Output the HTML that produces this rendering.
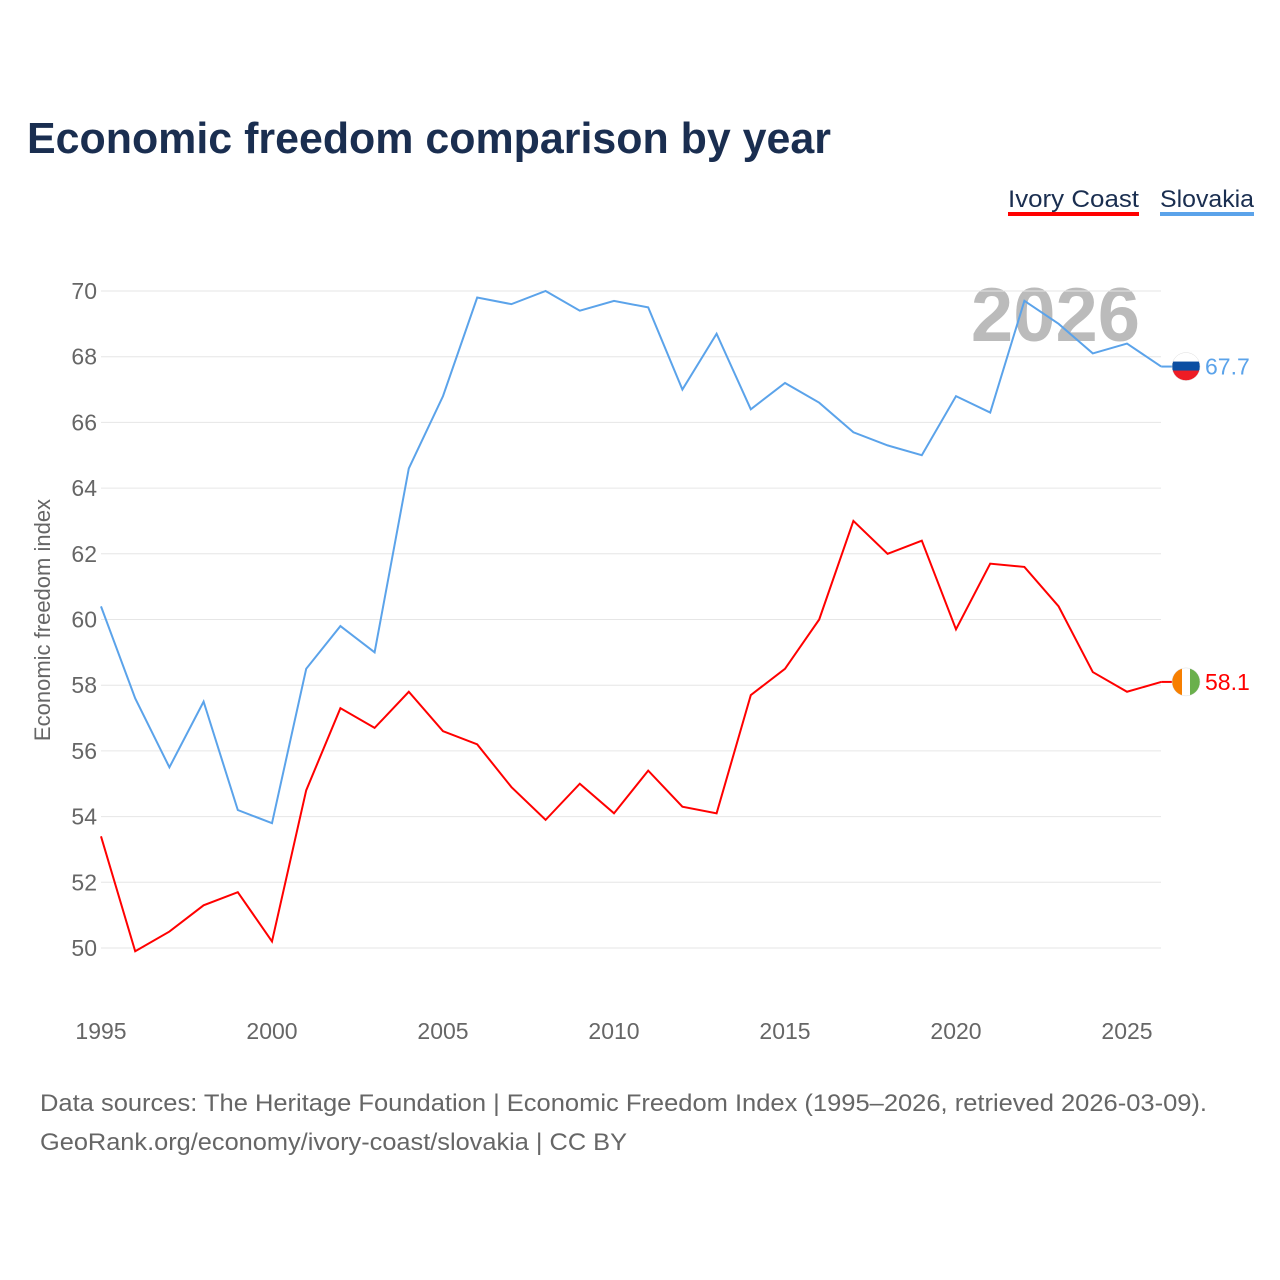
<!DOCTYPE html>
<html><head><meta charset="utf-8">
<style>
body{margin:0;background:#fff;font-family:"Liberation Sans",sans-serif;}
#wrap{position:relative;width:1280px;height:1280px;overflow:hidden;}
</style></head>
<body><div id="wrap">
<svg id="chart" width="1280" height="1280" xmlns="http://www.w3.org/2000/svg">
<text x="27" y="153" font-size="44" font-weight="bold" fill="#1a2e50" textLength="804" lengthAdjust="spacingAndGlyphs">Economic freedom comparison by year</text>
<g><text x="1008" y="207" font-size="24" fill="#1a2e50" textLength="131" lengthAdjust="spacingAndGlyphs">Ivory Coast</text><rect x="1008" y="212" width="131" height="4" fill="#ff0000"/></g>
<g><text x="1160" y="207" font-size="24" fill="#1a2e50" textLength="94" lengthAdjust="spacingAndGlyphs">Slovakia</text><rect x="1160" y="212" width="94" height="4" fill="#5ba3ea"/></g>
<text x="1140" y="341" text-anchor="end" font-size="76" font-weight="bold" fill="#bbb">2026</text>
<text transform="translate(50,620) rotate(-90)" text-anchor="middle" font-size="22" fill="#666">Economic freedom index</text>
<g id="grid"></g><g id="xt"></g><g id="lines"></g>
<text x="40" y="1111" font-size="24" fill="#666" textLength="1167" lengthAdjust="spacingAndGlyphs">Data sources: The Heritage Foundation | Economic Freedom Index (1995–2026, retrieved 2026-03-09).</text>
<text x="40" y="1150" font-size="24" fill="#666" textLength="587" lengthAdjust="spacingAndGlyphs">GeoRank.org/economy/ivory-coast/slovakia | CC BY</text>
</svg></div>
<script>
const years=[1995,1996,1997,1998,1999,2000,2001,2002,2003,2004,2005,2006,2007,2008,2009,2010,2011,2012,2013,2014,2015,2016,2017,2018,2019,2020,2021,2022,2023,2024,2025,2026];
const slovakia=[60.4,57.6,55.5,57.5,54.2,53.8,58.5,59.8,59.0,64.6,66.8,69.8,69.6,70.0,69.4,69.7,69.5,67.0,68.7,66.4,67.2,66.6,65.7,65.3,65.0,66.8,66.3,69.7,69.0,68.1,68.4,67.7];
const ivoryCoast=[53.4,49.9,50.5,51.3,51.7,50.2,54.8,57.3,56.7,57.8,56.6,56.2,54.9,53.9,55.0,54.1,55.4,54.3,54.1,57.7,58.5,60.0,63.0,62.0,62.4,59.7,61.7,61.6,60.4,58.4,57.8,58.1];
const yTicks=[50,52,54,56,58,60,62,64,66,68,70];
const xTicks=[1995,2000,2005,2010,2015,2020,2025];
const NS="http://www.w3.org/2000/svg";
const X=v=>101+(v-1995)*(1127-101)/30;
const Y=v=>948-(v-50)*(948-291)/20;
function mk(t,a,p){const e=document.createElementNS(NS,t);for(const k in a)e.setAttribute(k,a[k]);p.appendChild(e);return e;}
const grid=document.getElementById('grid');
yTicks.forEach(v=>{
 const l=mk('line',{x1:101,x2:1161,y1:Y(v),y2:Y(v),stroke:'#e6e6e6','stroke-width':1},grid);
 
 
 const t=mk('text',{x:97,y:Y(v)+8,'text-anchor':'end','font-size':23,fill:'#666'},grid);t.textContent=v;
 
 
});
const xt=document.getElementById('xt');
xTicks.forEach(v=>{
 const t=mk('text',{x:X(v),y:1039,'text-anchor':'middle','font-size':23,fill:'#666'},xt);t.textContent=v;
 
 
});
const lines=document.getElementById('lines');
function series(vals,color,name,flag){
 const p=mk('polyline',{points:vals.map((v,i)=>X(years[i])+','+Y(v)).join(' '),fill:'none',stroke:color,'stroke-width':2},lines);
 
 
 const last=vals[vals.length-1],lx=X(years[years.length-1]),ly=Y(last);
 mk('line',{x1:lx,x2:lx+14,y1:ly,y2:ly,stroke:color,'stroke-width':2},lines);
 const g=mk('g',{},lines);
 
 
 const cx=1186,r=14;
 const cp=mk('clipPath',{id:'c'+name},g);mk('circle',{cx:cx,cy:ly,r:r},cp);
 const gg=mk('g',{'clip-path':'url(#c'+name+')'},g);
 mk('rect',{x:cx-r,y:ly-r,width:28,height:28,fill:'#fff'},gg);
 if(flag==='sk'){
  mk('rect',{x:cx-r,y:ly-r+9,width:28,height:10,fill:'#0b4ea2'},gg);
  mk('rect',{x:cx-r,y:ly-r+18,width:28,height:10,fill:'#ee1c25'},gg);
 }else{
  mk('rect',{x:cx-r,y:ly-r,width:10,height:28,fill:'#f77f00'},gg);
  mk('rect',{x:cx-r+18,y:ly-r,width:10,height:28,fill:'#6ab04c'},gg);
 }
 mk('circle',{cx:cx,cy:ly,r:r,fill:'none',stroke:'#ddd','stroke-width':0.5},g);
 const t=mk('text',{x:1205,y:ly+8,'font-size':23,fill:color},lines);t.textContent=last.toFixed(1);
 
 
}
series(ivoryCoast,'#ff0000','ivory-coast','ci');
series(slovakia,'#5ba3ea','slovakia','sk');
</script>
</body></html>
